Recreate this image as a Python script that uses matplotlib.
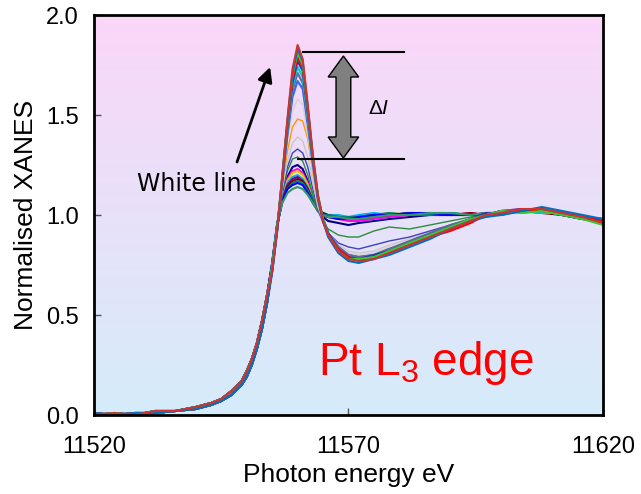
import numpy as np
import matplotlib
matplotlib.use("Agg")
import matplotlib.pyplot as plt
from matplotlib.patches import Polygon

plt.rcParams["font.family"] = ["Liberation Sans", "DejaVu Sans"]
plt.rcParams["mathtext.fontset"] = "custom"
plt.rcParams["mathtext.rm"] = "Liberation Sans"
plt.rcParams["mathtext.it"] = "Liberation Sans:italic"

# ---- data -------------------------------------------------------------
# Pre-edge and rising edge, shared by all spectra (two slightly offset traces)
energy_edge = [11520, 11524, 11528, 11532, 11536, 11540, 11543, 11545,
               11547, 11549, 11550, 11551, 11552, 11553, 11554]
edge_a = [0.01, 0.00, 0.01, 0.01, 0.02, 0.03, 0.05, 0.07,
          0.10, 0.15, 0.19, 0.25, 0.33, 0.43, 0.56]
edge_b = [0.00, 0.01, 0.00, 0.02, 0.02, 0.04, 0.06, 0.08,
          0.12, 0.17, 0.22, 0.28, 0.36, 0.47, 0.60]

# White line and post-edge region of each spectrum
energy_post = [11555, 11556, 11557, 11558, 11559, 11560, 11561, 11562,
               11563, 11564, 11565, 11566, 11568, 11570, 11572, 11575,
               11578, 11582, 11586, 11590, 11594, 11597, 11600, 11604,
               11608, 11612, 11616, 11620]

high_1 = [0.72, 0.93, 1.20, 1.48, 1.73, 1.85, 1.78, 1.55, 1.30, 1.10, 0.97, 0.90, 0.82, 0.78,
          0.77, 0.78, 0.81, 0.85, 0.89, 0.93, 0.97, 1.00, 1.01, 1.03, 1.03, 1.01, 0.99, 0.96]
high_2 = [0.71, 0.92, 1.19, 1.47, 1.71, 1.83, 1.77, 1.54, 1.29, 1.09, 0.97, 0.89, 0.81, 0.77,
          0.76, 0.78, 0.80, 0.84, 0.88, 0.93, 0.97, 0.99, 1.00, 1.02, 1.04, 1.02, 1.00, 0.98]
high_3 = [0.73, 0.94, 1.20, 1.46, 1.70, 1.81, 1.75, 1.53, 1.29, 1.10, 0.98, 0.90, 0.82, 0.78,
          0.78, 0.79, 0.82, 0.86, 0.90, 0.94, 0.98, 1.00, 1.02, 1.01, 1.02, 1.00, 0.98, 0.95]
high_4 = [0.72, 0.93, 1.19, 1.45, 1.68, 1.79, 1.74, 1.52, 1.28, 1.09, 0.97, 0.90, 0.83, 0.79,
          0.77, 0.78, 0.81, 0.85, 0.89, 0.92, 0.96, 1.00, 1.01, 1.03, 1.02, 1.01, 0.99, 0.97]
high_5 = [0.72, 0.93, 1.18, 1.44, 1.66, 1.77, 1.72, 1.51, 1.28, 1.09, 0.98, 0.91, 0.83, 0.79,
          0.78, 0.80, 0.82, 0.86, 0.90, 0.94, 0.98, 1.01, 1.00, 1.02, 1.03, 1.00, 0.98, 0.98]
high_6 = [0.73, 0.94, 1.18, 1.43, 1.64, 1.74, 1.69, 1.49, 1.27, 1.09, 0.98, 0.91, 0.83, 0.79,
          0.78, 0.79, 0.82, 0.85, 0.89, 0.93, 0.97, 1.00, 1.01, 1.02, 1.01, 1.01, 0.99, 0.96]
high_7 = [0.72, 0.93, 1.17, 1.41, 1.62, 1.71, 1.66, 1.47, 1.26, 1.08, 0.98, 0.91, 0.84, 0.80,
          0.79, 0.80, 0.83, 0.87, 0.91, 0.95, 0.98, 1.00, 1.02, 1.03, 1.02, 1.00, 0.98, 0.97]
high_8 = [0.73, 0.94, 1.17, 1.40, 1.59, 1.67, 1.63, 1.45, 1.25, 1.08, 0.98, 0.91, 0.84, 0.80,
          0.79, 0.80, 0.83, 0.86, 0.90, 0.94, 0.98, 1.01, 1.01, 1.02, 1.03, 1.01, 0.99, 0.98]

mid_1 = [0.73, 0.94, 1.16, 1.37, 1.52, 1.58, 1.55, 1.40, 1.22, 1.07, 0.98, 0.91, 0.84, 0.81,
         0.80, 0.81, 0.84, 0.87, 0.91, 0.94, 0.98, 1.00, 1.01, 1.02, 1.02, 1.00, 0.99, 0.97]
mid_2 = [0.74, 0.94, 1.15, 1.32, 1.44, 1.48, 1.47, 1.38, 1.21, 1.06, 0.97, 0.90, 0.83, 0.80,
         0.79, 0.80, 0.83, 0.86, 0.90, 0.94, 0.97, 1.00, 1.01, 1.02, 1.02, 1.01, 0.99, 0.97]
mid_3 = [0.74, 0.94, 1.13, 1.27, 1.36, 1.39, 1.37, 1.29, 1.16, 1.04, 0.97, 0.91, 0.85, 0.82,
         0.81, 0.82, 0.85, 0.88, 0.91, 0.95, 0.98, 1.00, 1.01, 1.02, 1.02, 1.00, 0.99, 0.97]
mid_4 = [0.74, 0.94, 1.12, 1.24, 1.31, 1.33, 1.31, 1.24, 1.13, 1.03, 0.96, 0.91, 0.86, 0.84,
         0.83, 0.85, 0.87, 0.89, 0.92, 0.95, 0.98, 1.00, 1.01, 1.02, 1.02, 1.01, 0.99, 0.97]
mid_5 = [0.74, 0.94, 1.11, 1.22, 1.28, 1.29, 1.27, 1.20, 1.10, 1.02, 0.97, 0.93, 0.90, 0.89,
         0.89, 0.92, 0.94, 0.93, 0.95, 0.97, 0.99, 1.00, 1.01, 1.02, 1.03, 1.01, 0.99, 0.97]

low_1 = [0.74, 0.94, 1.10, 1.19, 1.24, 1.25, 1.23, 1.17, 1.09, 1.03, 0.99, 0.97, 0.96, 0.95,
         0.96, 0.97, 0.98, 0.99, 1.00, 1.00, 1.00, 1.00, 1.01, 1.02, 1.02, 1.00, 0.98, 0.96]
low_2 = [0.75, 0.95, 1.09, 1.18, 1.22, 1.23, 1.21, 1.16, 1.09, 1.03, 1.00, 0.99, 0.98, 0.97,
         0.97, 0.98, 0.99, 1.00, 1.01, 1.00, 1.01, 1.00, 1.02, 1.03, 1.02, 1.01, 0.99, 0.97]
low_3 = [0.74, 0.94, 1.09, 1.17, 1.21, 1.22, 1.20, 1.15, 1.08, 1.03, 1.01, 1.00, 0.99, 0.99,
         0.99, 1.00, 1.01, 1.00, 1.01, 1.01, 1.00, 1.01, 1.01, 1.02, 1.03, 1.00, 0.98, 0.98]
low_4 = [0.75, 0.95, 1.08, 1.16, 1.19, 1.20, 1.18, 1.14, 1.08, 1.03, 1.01, 1.00, 1.00, 0.99,
         1.00, 1.01, 1.00, 1.01, 1.00, 1.01, 1.00, 1.00, 1.02, 1.01, 1.02, 1.01, 0.99, 0.96]
low_5 = [0.75, 0.95, 1.08, 1.15, 1.18, 1.19, 1.17, 1.13, 1.07, 1.02, 1.00, 0.99, 0.99, 0.98,
         0.99, 1.00, 1.00, 1.00, 1.01, 1.00, 1.00, 1.01, 1.01, 1.03, 1.02, 1.00, 0.99, 0.97]
low_6 = [0.76, 0.95, 1.07, 1.14, 1.17, 1.18, 1.17, 1.13, 1.07, 1.03, 1.01, 1.00, 0.99, 0.98,
         0.98, 0.99, 1.00, 1.01, 1.00, 1.00, 1.01, 1.00, 1.02, 1.02, 1.01, 1.00, 0.98, 0.97]
low_7 = [0.75, 0.95, 1.07, 1.13, 1.16, 1.17, 1.16, 1.12, 1.07, 1.02, 1.00, 1.00, 0.99, 0.99,
         0.99, 1.00, 1.01, 1.00, 1.00, 1.01, 1.00, 1.01, 1.01, 1.02, 1.03, 1.01, 0.99, 0.96]
low_8 = [0.76, 0.96, 1.07, 1.13, 1.15, 1.16, 1.15, 1.11, 1.06, 1.02, 1.00, 0.99, 0.98, 0.98,
         0.99, 1.00, 1.00, 1.01, 1.01, 1.00, 1.00, 1.00, 1.02, 1.02, 1.02, 1.00, 0.99, 0.98]
low_9 = [0.76, 0.96, 1.06, 1.11, 1.13, 1.14, 1.13, 1.10, 1.06, 1.02, 1.00, 0.99, 0.99, 0.98,
         0.98, 0.99, 1.00, 1.00, 1.01, 1.01, 1.00, 1.01, 1.01, 1.02, 1.02, 1.01, 0.98, 0.97]

spectra = [
    (low_1, "#000080"), (low_2, "#ff00ff"), (low_3, "#e6c800"), (low_4, "#00b0f0"),
    (low_5, "#800080"), (low_6, "#800000"), (low_7, "#008080"), (low_8, "#0000ff"),
    (low_9, "#339966"),
    (mid_5, "#2e8b3a"), (mid_4, "#4040c0"), (mid_3, "#c8c8c8"), (mid_2, "#ff9900"),
    (mid_1, "#d8d0d8"),
    (high_8, "#3366ff"), (high_7, "#666699"), (high_6, "#00cccc"), (high_5, "#3333aa"),
    (high_4, "#ff0000"), (high_3, "#33cc33"), (high_2, "#0070c0"), (high_1, "#cc3333"),
]

x_ticks = [11520, 11570, 11620]
y_ticks = [0.0, 0.5, 1.0, 1.5, 2.0]

# ---- figure -----------------------------------------------------------
fig = plt.figure(figsize=(6.41, 4.94), dpi=100)
ax = fig.add_axes([94 / 641, 1 - 415 / 494, 509 / 641, 400 / 494])

# pink-to-blue background inside the plot frame
top_rgb = np.array([251, 214, 249]) / 255
bot_rgb = np.array([213, 236, 250]) / 255
t = np.linspace(0, 1, 256)[:, None]
grad = (top_rgb[None, :] * (1 - t) + bot_rgb[None, :] * t)[:, None, :]
ax.imshow(grad, extent=[0, 1, 0, 1], transform=ax.transAxes,
          aspect="auto", zorder=0, interpolation="bilinear")

for i, (vals, col) in enumerate(spectra):
    edge = edge_a if i % 2 == 0 else edge_b
    thin = vals in (mid_1, mid_2, mid_3, mid_4, mid_5)
    ax.plot(energy_edge + energy_post, edge + vals, color=col,
            lw=1.0 if thin else 1.5, zorder=2, solid_joinstyle="round")

ax.set_xlim(11520, 11620)
ax.set_ylim(0, 2.0)
ax.set_xticks(x_ticks)
ax.set_yticks(y_ticks)
ax.set_xticklabels([str(v) for v in x_ticks])
ax.set_yticklabels([f"{v:.1f}" for v in y_ticks])
ax.tick_params(axis="both", direction="in", length=5, width=1, color="#555555",
               labelsize=17)
ax.tick_params(axis="x", pad=15)
ax.tick_params(axis="y", pad=11)
for sp in ax.spines.values():
    sp.set_linewidth(2)
    sp.set_color("black")
    sp.set_zorder(5)

ax.set_xlabel("Photon energy eV", fontsize=19, labelpad=4)
ax.set_ylabel("Normalised XANES", fontsize=19, labelpad=6)

# Delta-I marker: reference lines and grey double arrow
ax.plot([11561, 11581], [1.815, 1.815], color="black", lw=1.5, zorder=3)
ax.plot([11560, 11581], [1.28, 1.28], color="black", lw=1.5, zorder=3)

cx, y_top, y_bot = 11569.0, 1.795, 1.285
shaft_hw, head_hw, head_len = 1.45, 3.0, 0.105
arrow_pts = [
    (cx, y_top), (cx + head_hw, y_top - head_len), (cx + shaft_hw, y_top - head_len),
    (cx + shaft_hw, y_bot + head_len), (cx + head_hw, y_bot + head_len), (cx, y_bot),
    (cx - head_hw, y_bot + head_len), (cx - shaft_hw, y_bot + head_len),
    (cx - shaft_hw, y_top - head_len), (cx - head_hw, y_top - head_len),
]
ax.add_patch(Polygon(arrow_pts, closed=True, facecolor="#808080",
                     edgecolor="black", lw=1.0, zorder=4))
ax.text(11576, 1.53, r"Δ$\mathit{I}$", fontsize=15, ha="center", va="center",
        zorder=4)

# white-line arrow and label
ax.annotate("", xy=(11554.6, 1.74), xytext=(11548.1, 1.265),
            arrowprops=dict(arrowstyle="-|>", color="black", lw=2,
                            mutation_scale=22, shrinkA=0, shrinkB=0),
            zorder=4)
ax.text(11528.4, 1.12, "White line", fontsize=17, family="DejaVu Sans",
        ha="left", va="baseline", zorder=4)

ax.text(11564.0, 0.20, r"Pt L$_\mathregular{3}$ edge", fontsize=33, color="#ff0000",
        ha="left", va="baseline", zorder=4)

fig.savefig("out.png", dpi=100)
